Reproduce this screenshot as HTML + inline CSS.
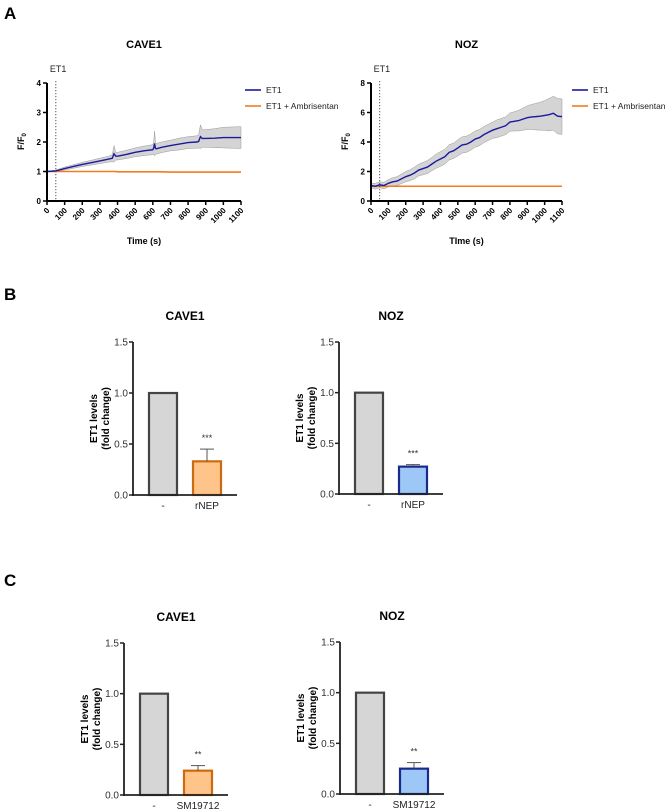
<!DOCTYPE html>
<html><head><meta charset="utf-8"><style>
body{margin:0;background:#fff;}
svg{display:block;font-family:"Liberation Sans",sans-serif;}
.t{font-size:9px;fill:#222}
</style></head><body>
<svg id="fig" width="669" height="811" viewBox="0 0 669 811">
<text x="4" y="19" font-size="17" font-weight="bold">A</text>
<text x="4" y="300" font-size="17" font-weight="bold">B</text>
<text x="4" y="586" font-size="17" font-weight="bold">C</text>
<g id="charts"></g>
</svg>
<script>
// ---- Panel A data ----
const caveTimes = [0,50,100,150,200,250,300,350,370,380,390,400,450,500,550,600,605,610,615,620,650,700,750,800,850,860,870,880,900,950,1000,1050,1100];
const caveEt1 = [1.0,1.02,1.1,1.17,1.24,1.3,1.36,1.42,1.45,1.6,1.52,1.52,1.58,1.65,1.7,1.74,1.8,1.95,1.78,1.77,1.82,1.88,1.93,1.98,2.0,2.02,2.18,2.12,2.12,2.13,2.15,2.15,2.15];
const caveSem = [0.01,0.03,0.05,0.06,0.07,0.08,0.09,0.1,0.12,0.28,0.13,0.13,0.14,0.15,0.16,0.17,0.2,0.42,0.2,0.18,0.18,0.18,0.2,0.2,0.21,0.22,0.4,0.3,0.3,0.32,0.35,0.36,0.37];
const caveAmb = [1.0,1.0,1.0,1.0,1.0,1.0,1.0,1.0,1.0,1.0,1.0,0.99,0.99,0.99,0.99,0.99,0.99,0.99,0.99,0.99,0.99,0.98,0.98,0.98,0.98,0.98,0.98,0.98,0.98,0.98,0.98,0.98,0.98];
const nozTimes = [0,25,50,75,100,125,150,175,200,225,250,275,300,325,350,375,400,425,450,475,500,525,550,575,600,625,650,675,700,725,750,775,800,825,850,875,900,925,950,975,1000,1025,1050,1075,1100];
const nozEt1 = [1.05,1.0,1.1,1.05,1.2,1.3,1.35,1.5,1.65,1.75,1.9,2.1,2.2,2.3,2.5,2.7,2.85,3.0,3.3,3.4,3.6,3.8,3.85,4.0,4.2,4.3,4.5,4.65,4.8,4.9,5.0,5.1,5.35,5.4,5.45,5.55,5.65,5.7,5.72,5.75,5.8,5.85,5.95,5.75,5.72];
const nozSem = [0.15,0.2,0.2,0.22,0.25,0.28,0.3,0.32,0.35,0.37,0.4,0.4,0.42,0.45,0.45,0.48,0.5,0.5,0.52,0.52,0.55,0.55,0.55,0.55,0.55,0.55,0.55,0.55,0.55,0.6,0.6,0.6,0.62,0.65,0.7,0.75,0.8,0.85,0.9,0.95,1.0,1.1,1.15,1.2,1.2];
const nozAmb = [1.0,1.0,1.0,1.0,1.0,1.0,1.0,1.0,1.0,1.0,1.0,1.0,1.0,1.0,1.0,1.0,1.0,1.0,1.0,1.0,1.0,1.0,1.0,1.0,1.0,1.0,1.0,1.0,1.0,1.0,1.0,1.0,1.0,1.0,1.0,1.0,1.0,1.0,1.0,1.0,1.0,1.0,1.0,1.0,1.0];
const timeTicks = [0,100,200,300,400,500,600,700,800,900,1000,1100];
const caveYTicks = [0,1,2,3,4];
const nozYTicks = [0,2,4,6,8];
// ---- Panel B/C data ----
const barCats = ["-","rNEP"];
const barCatsC = ["-","SM19712"];
const bCaveVals = [1.0,0.33]; const bCaveErr = [0,0.12];
const bNozVals = [1.0,0.27]; const bNozErr = [0,0.02];
const cCaveVals = [1.0,0.24]; const cCaveErr = [0,0.05];
const cNozVals = [1.0,0.25]; const cNozErr = [0,0.06];
const barYTicks = [0.0,0.5,1.0,1.5];
const barYTickLabels = ["0.0","0.5","1.0","1.5"];

const NS="http://www.w3.org/2000/svg";
const root=document.getElementById('charts');
function mk(tag,attrs,parent,txt){const e=document.createElementNS(NS,tag);for(const k in attrs)e.setAttribute(k,attrs[k]);if(txt!==undefined)e.textContent=txt;(parent||root).appendChild(e);return e;}

function lineChart(o){
  const g=mk('g',{});
  
  
  const sx=t=>o.x0+(o.x1-o.x0)*t/1100, sy=v=>o.y0-(o.y0-o.y1)*v/o.ymax;
  let up=o.t.map((t,i)=>sx(t)+','+sy(o.m[i]+o.s[i])), dn=o.t.map((t,i)=>sx(t)+','+sy(o.m[i]-o.s[i])).reverse();
  const band=mk('polygon',{points:up.concat(dn).join(' '),fill:'#d4d4d4',stroke:'#999','stroke-width':0.5},g);
  
  
  const amb=mk('polyline',{points:o.t.map((t,i)=>sx(t)+','+sy(o.a[i])).join(' '),fill:'none',stroke:'#f47c20','stroke-width':1.6},g);
  
  
  const et=mk('polyline',{points:o.t.map((t,i)=>sx(t)+','+sy(o.m[i])).join(' '),fill:'none',stroke:'#1a1a9c','stroke-width':1.4},g);
  
  
  const dl=mk('line',{x1:sx(50),x2:sx(50),y1:o.y1-2,y2:o.y0,stroke:'#555','stroke-dasharray':'1.2,1.8','stroke-width':1},g);
  
  
  mk('text',{x:sx(50)-6,y:72,class:'t','font-size':'9'},g,'ET1');
  mk('line',{x1:o.x0,x2:o.x0,y1:o.y1,y2:o.y0+1,stroke:'#000','stroke-width':2},g);
  mk('line',{x1:o.x0-1,x2:o.x1,y1:o.y0,y2:o.y0,stroke:'#000','stroke-width':2},g);
  o.yt.forEach(v=>{mk('line',{x1:o.x0-4,x2:o.x0,y1:sy(v),y2:sy(v),stroke:'#000','stroke-width':1.5},g);
    mk('text',{x:o.x0-6,y:sy(v)+3,'text-anchor':'end','font-size':'8','font-weight':'bold'},g,String(v));});
  timeTicks.forEach(t=>{const x=sx(t);mk('line',{x1:x,x2:x,y1:o.y0,y2:o.y0+4,stroke:'#000','stroke-width':1.5},g);
    mk('text',{x:x+3,y:o.y0+10,'text-anchor':'end','font-size':'8','font-weight':'bold',transform:`rotate(-45 ${x+3} ${o.y0+10})`},g,String(t));});
  const yl=mk('text',{x:0,y:0,'font-size':'9','font-weight':'bold',transform:`translate(${o.x0-23},${(o.y0+o.y1)/2+8}) rotate(-90)`},g);
  yl.innerHTML='F/F<tspan font-size="6" dy="2">0</tspan>';
  
  
  const xt=mk('text',{x:(o.x0+o.x1)/2,y:244,'text-anchor':'middle','font-size':'9','font-weight':'bold'},g,o.xlabel);
  
  
  const ti=mk('text',{x:(o.x0+o.x1)/2,y:48,'text-anchor':'middle','font-size':'11','font-weight':'bold'},g,o.title);
  
  
  const lg=mk('g',{},g);
  
  
  mk('line',{x1:o.lx,x2:o.lx+16,y1:90,y2:90,stroke:'#1a1a9c','stroke-width':1.6},lg);
  mk('text',{x:o.lx+21,y:93,'font-size':'8.5',fill:'#222'},lg,'ET1');
  mk('line',{x1:o.lx,x2:o.lx+16,y1:106,y2:106,stroke:'#f47c20','stroke-width':1.6},lg);
  mk('text',{x:o.lx+21,y:109,'font-size':'8.5',fill:'#222'},lg,'ET1 + Ambrisentan');
}
lineChart({name:'cave1-calcium',x0:47,x1:241,y0:201,y1:83,ymax:4,t:caveTimes,m:caveEt1,s:caveSem,a:caveAmb,yt:caveYTicks,xlabel:'Time (s)',title:'CAVE1',lx:245});
lineChart({name:'noz-calcium',x0:371,x1:562,y0:201,y1:83,ymax:8,t:nozTimes,m:nozEt1,s:nozSem,a:nozAmb,yt:nozYTicks,xlabel:'TIme (s)',title:'NOZ',lx:572});

function barChart(o){
  const g=mk('g',{});
  
  
  const sy=v=>o.y0-(o.y0-o.y1)*v/1.5;
  const bx=[o.ax+16,o.ax+60], bw=28;
  o.vals.forEach((v,i)=>{
    const r=mk('rect',{x:bx[i],y:sy(v),width:bw,height:o.y0-sy(v),fill:i?o.fill:'#d6d6d6',stroke:i?o.stroke:'#444','stroke-width':2.2},g);
    
    
    if(o.err[i]>0){const cx=bx[i]+bw/2,te=sy(v+o.err[i]);
      mk('line',{x1:cx,x2:cx,y1:sy(v),y2:te,stroke:'#555','stroke-width':1},g);
      mk('line',{x1:cx-7,x2:cx+7,y1:te,y2:te,stroke:'#555','stroke-width':1},g);}
    if(i){const st=mk('text',{x:bx[i]+bw/2,y:sy(v+o.err[i])-8,'text-anchor':'middle','font-size':'9',fill:'#333'},g,o.star);
      
      }
    mk('text',{x:bx[i]+bw/2,y:o.y0+14,'text-anchor':'middle','font-size':'10',fill:'#222'},g,o.cats[i]);
  });
  mk('line',{x1:o.ax,x2:o.ax,y1:o.y1,y2:o.y0+1,stroke:'#222','stroke-width':1.8},g);
  mk('line',{x1:o.ax-1,x2:o.ax+104,y1:o.y0,y2:o.y0,stroke:'#222','stroke-width':1.8},g);
  barYTicks.forEach((v,i)=>{mk('line',{x1:o.ax-4,x2:o.ax,y1:sy(v),y2:sy(v),stroke:'#222','stroke-width':1.5},g);
    mk('text',{x:o.ax-5,y:sy(v)+3.5,'text-anchor':'end','font-size':'10',fill:'#333'},g,barYTickLabels[i]);});
  const yl=mk('text',{'font-size':'10','font-weight':'bold','text-anchor':'middle',transform:`translate(${o.ax-36},${(o.y0+o.y1)/2}) rotate(-90)`},g);
  yl.innerHTML='<tspan x="0" dy="0">ET1 levels</tspan><tspan x="0" dy="12">(fold change)</tspan>';
  
  
  const ti=mk('text',{x:o.ax+52,y:o.y1-22,'text-anchor':'middle','font-size':'12','font-weight':'bold'},g,o.title);
  
  
}
barChart({name:'b-cave1',ax:133,y0:495,y1:342,vals:bCaveVals,err:bCaveErr,cats:barCats,fill:'#ffc48a',stroke:'#cc6a10',star:'***',title:'CAVE1'});
barChart({name:'b-noz',ax:339,y0:494,y1:342,vals:bNozVals,err:bNozErr,cats:barCats,fill:'#9cc7f7',stroke:'#1a2a8c',star:'***',title:'NOZ'});
barChart({name:'c-cave1',ax:124,y0:795,y1:643,vals:cCaveVals,err:cCaveErr,cats:barCatsC,fill:'#ffc48a',stroke:'#cc6a10',star:'**',title:'CAVE1'});
barChart({name:'c-noz',ax:340,y0:794,y1:642,vals:cNozVals,err:cNozErr,cats:barCatsC,fill:'#9cc7f7',stroke:'#1a2a8c',star:'**',title:'NOZ'});
</script>
</body></html>
